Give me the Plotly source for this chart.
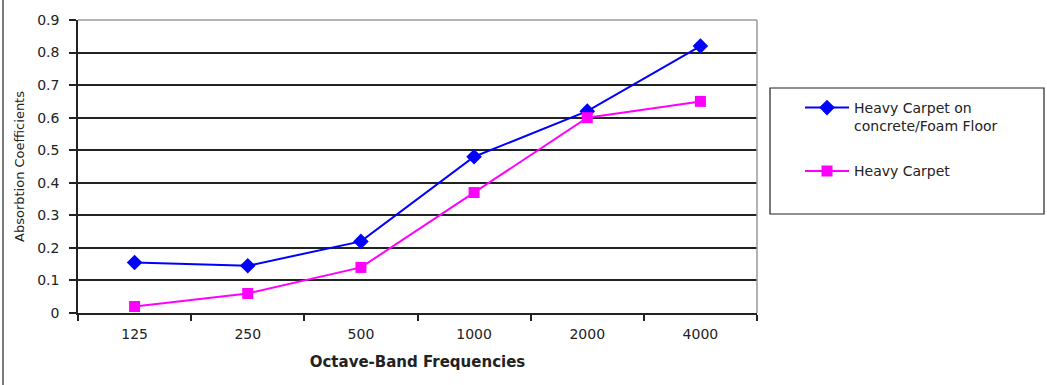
import plotly.graph_objects as go

frequencies = ["125", "250", "500", "1000", "2000", "4000"]
carpet_on_concrete_foam = [0.155, 0.145, 0.22, 0.48, 0.62, 0.82]
heavy_carpet = [0.02, 0.06, 0.14, 0.37, 0.60, 0.65]

W, H = 1047, 385
L, R, T, B = 78, 290, 20, 72
pw, ph = W - L - R, H - T - B

def px_x(x):
    return (x - L) / pw

def px_y(y):
    return (H - B - y) / ph

fig = go.Figure()
fig.add_trace(go.Scatter(
    x=frequencies, y=carpet_on_concrete_foam, mode="lines+markers",
    name="Heavy Carpet on<br>concrete/Foam Floor", legendgroup="a",
    line=dict(color="#0000FF", width=2),
    marker=dict(symbol="diamond", size=12, color="#0000FF"),
))
fig.add_trace(go.Scatter(
    x=frequencies, y=heavy_carpet, mode="lines+markers",
    name="Heavy Carpet", legendgroup="b",
    line=dict(color="#FF00FF", width=2),
    marker=dict(symbol="square", size=11, color="#FF00FF"),
))

font = "DejaVu Sans, Verdana, sans-serif"
ink = "#222222"

fig.update_layout(
    width=W, height=H,
    margin=dict(l=L, r=R, t=T, b=B, pad=0),
    paper_bgcolor="white", plot_bgcolor="white",
    font=dict(family=font, size=14, color=ink),
    showlegend=True,
    legend=dict(
        x=px_x(800), y=px_y(92), xanchor="left", yanchor="top",
        bgcolor="rgba(0,0,0,0)", borderwidth=0, valign="top",
        traceorder="grouped",
        font=dict(family=font, size=14, color=ink),
        tracegroupgap=24, itemwidth=44,
    ),
    xaxis=dict(
        type="category", tickson="boundaries", ticks="outside", ticklen=6,
        tickcolor=ink, tickwidth=1.5, automargin=False,
        ticklabelstandoff=7,
        showline=True, linecolor=ink, linewidth=1.5,
        showgrid=False, zeroline=False,
        tickfont=dict(size=14, color=ink),
        title=dict(text="<b>Octave-Band Frequencies</b>", standoff=16,
                   font=dict(size=15, color=ink)),
        range=[-0.5, 5.5],
    ),
    yaxis=dict(
        range=[0, 0.9], dtick=0.1, automargin=False,
        ticks="outside", ticklen=7, tickcolor=ink, tickwidth=1.5,
        ticklabelstandoff=7,
        showline=True, linecolor=ink, linewidth=1.5,
        showgrid=True, gridcolor=ink, gridwidth=1.5,
        zeroline=False,
        tickfont=dict(size=14, color=ink),
        title=dict(text="Absorbtion Coefficients", standoff=10,
                   font=dict(size=13, color=ink)),
    ),
    shapes=[
        # light frame along the top and right of the plotting area
        dict(type="line", xref="paper", yref="paper", x0=0, x1=1, y0=1, y1=1,
             line=dict(color="#9a9a9a", width=1.5)),
        dict(type="line", xref="paper", yref="paper", x0=1, x1=1, y0=0, y1=1,
             line=dict(color="#9a9a9a", width=1.5)),
        # legend box
        dict(type="rect", xref="paper", yref="paper",
             x0=px_x(770), x1=px_x(1044), y0=px_y(214), y1=px_y(88),
             line=dict(color=ink, width=1.2)),
        # outer border on the left
        dict(type="line", xref="paper", yref="paper",
             x0=px_x(3), x1=px_x(3), y0=px_y(385), y1=px_y(0),
             line=dict(color=ink, width=1.2)),
    ],
)

fig.write_html("out.html")
